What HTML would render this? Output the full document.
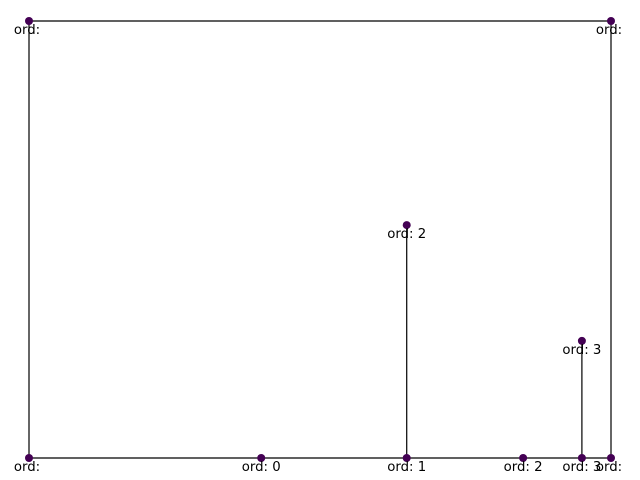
<!DOCTYPE html>
<html><head><meta charset="utf-8"><style>
html,body{margin:0;padding:0;background:#fff;width:640px;height:480px;overflow:hidden}
svg text{font-family:"DejaVu Sans","Liberation Sans",sans-serif;font-size:13.3px;fill:#000}
</style></head><body>
<svg id="chart" width="640" height="480" viewBox="0 0 640 480"></svg>
<script>
const nodeX = [0, 1, 0, 0.399, 0.649, 0.849, 0.950, 1, 0.649, 0.950];
const nodeY = [1, 1, 0, 0, 0, 0, 0, 0, 0.533, 0.268];
const nodeLabels = ["ord: ", "ord: ", "ord: ", "ord: 0", "ord: 1", "ord: 2", "ord: 3", "ord: ", "ord: 2", "ord: 3"];
const edgeFrom = [0, 0, 1, 2, 3, 4, 5, 6, 4, 6];
const edgeTo = [1, 2, 7, 3, 4, 5, 6, 7, 8, 9];
const svg = document.getElementById('chart');
const NS = 'http://www.w3.org/2000/svg';
const sx = v => 29 + v * 582;
const sy = v => 458 - v * 437;
for (let i = 0; i < edgeFrom.length; i++) {
  const a = edgeFrom[i], b = edgeTo[i];
  const l = document.createElementNS(NS, 'line');
  
  
  l.setAttribute('x1', sx(nodeX[a])); l.setAttribute('y1', sy(nodeY[a]));
  l.setAttribute('x2', sx(nodeX[b])); l.setAttribute('y2', sy(nodeY[b]));
  l.setAttribute('stroke', '#000'); l.setAttribute('stroke-width', '1.2');
  svg.appendChild(l);
}
for (let i = 0; i < nodeX.length; i++) {
  const c = document.createElementNS(NS, 'circle');
  
  
  c.setAttribute('cx', sx(nodeX[i])); c.setAttribute('cy', sy(nodeY[i]));
  c.setAttribute('r', '4'); c.setAttribute('fill', '#440154');
  svg.appendChild(c);
}
for (let i = 0; i < nodeX.length; i++) {
  const t = document.createElementNS(NS, 'text');
  
  
  const lbl = nodeLabels[i];
  const off = lbl.trim().length < lbl.length ? -2 : 0;
  t.setAttribute('x', sx(nodeX[i]) + off);
  t.setAttribute('y', sy(nodeY[i]) + 13);
  t.setAttribute('text-anchor', 'middle');
  t.textContent = lbl.trim();
  svg.appendChild(t);
}
</script>
</body></html>
